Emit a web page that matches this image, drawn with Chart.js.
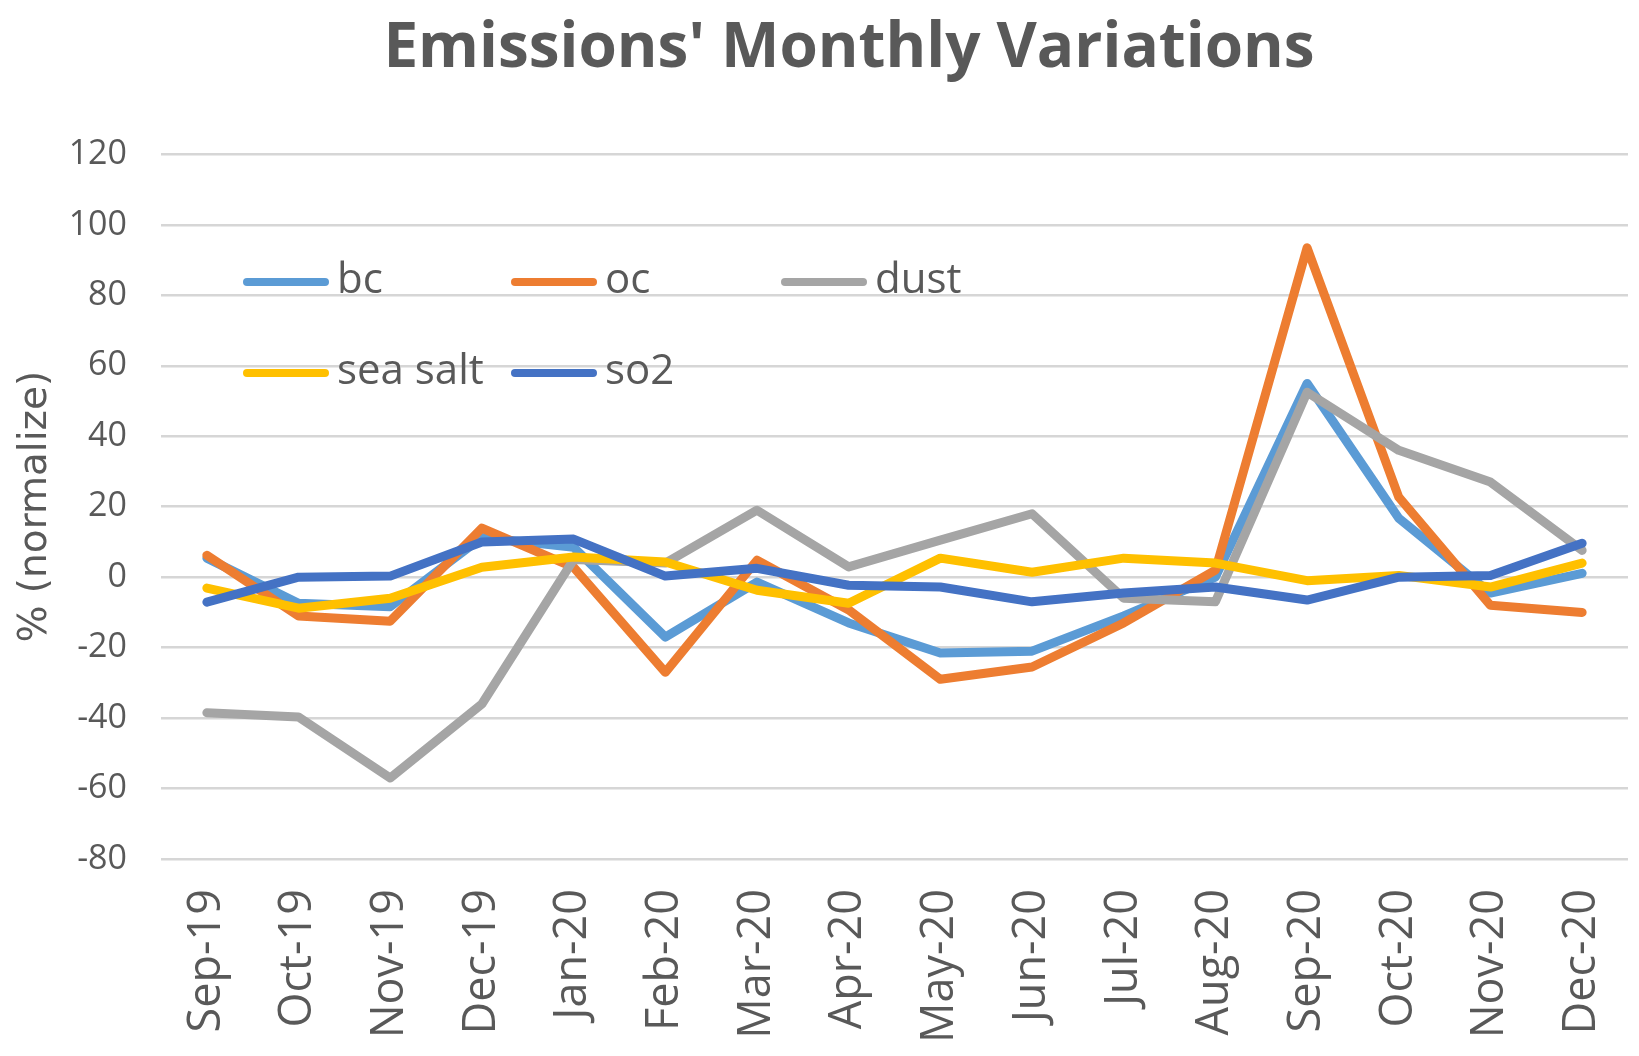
<!DOCTYPE html>
<html>
<head>
<meta charset="utf-8">
<title>Emissions' Monthly Variations</title>
<script src="https://cdn.jsdelivr.net/npm/chart.js@4.4.1/dist/chart.umd.min.js"></script>
<style>
  html, body { margin: 0; padding: 0; background: #fff; }
</style>
</head>
<body>
<canvas id="emissionsChart" width="1639" height="1056"></canvas>
<script>
// values (% normalized)
const months = ['Sep-19', 'Oct-19', 'Nov-19', 'Dec-19', 'Jan-20', 'Feb-20', 'Mar-20', 'Apr-20',
  'May-20', 'Jun-20', 'Jul-20', 'Aug-20', 'Sep-20', 'Oct-20', 'Nov-20', 'Dec-20'];
const bc = [5.4, -7.4, -8.4, 11.3, 8.5, -17, -1.4, -13, -21.5, -21, -11, 0, 55, 16.7, -4.5, 1.1];
const oc = [6.2, -11, -12.5, 13.9, 2.8, -27, 4.8, -9.3, -29, -25.5, -13, 2, 93.5, 22.7, -8, -10];
const dust = [-38.5, -39.7, -57, -36, 5, 4, 19, 2.9, 10.5, 18, -6, -7, 52.5, 36, 27, 7.6];
const seaSalt = [-3.1, -8.8, -6, 2.8, 5.7, 4.3, -3.7, -7.4, 5.4, 1.4, 5.4, 4, -1, 0.5, -2.8, 4];
const so2 = [-7.1, 0, 0.3, 10, 10.8, 0.3, 2.5, -2.3, -2.8, -7, -4.5, -2.8, -6.5, 0, 0.5, 9.6];
const yTicks = { min: -80, max: 120, step: 20 };

const textGrey = '#595959';

// legend sits inside the plot, two rows like the Excel original
const legendSpots = [
  { x: 247, y: 282 }, { x: 515, y: 282 }, { x: 785, y: 282 },
  { x: 247, y: 373 }, { x: 515, y: 373 }
];

const insideLegend = {
  id: 'insideLegend',
  afterDraw(chart) {
    const ctx = chart.ctx;
    ctx.save();
    chart.data.datasets.forEach((ds, i) => {
      const spot = legendSpots[i];
      ctx.strokeStyle = ds.borderColor;
      ctx.lineWidth = 8;
      ctx.lineCap = 'round';
      ctx.beginPath();
      ctx.moveTo(spot.x, spot.y);
      ctx.lineTo(spot.x + 78, spot.y);
      ctx.stroke();
      ctx.fillStyle = textGrey;
      ctx.font = '42px "Open Sans"';
      ctx.textBaseline = 'alphabetic';
      ctx.fillText(ds.label, spot.x + 90, spot.y + 11);
    });
    ctx.restore();
  }
};

function series(label, data, color, order) {
  return {
    label, data, order,
    borderColor: color,
    backgroundColor: color,
    borderWidth: 9,
    borderCapStyle: 'round',
    borderJoinStyle: 'round',
    pointRadius: 0,
    tension: 0,
    fill: false
  };
}

new Chart(document.getElementById('emissionsChart'), {
  type: 'line',
  data: {
    labels: months,
    datasets: [
      series('bc', bc, '#5B9BD5', 5),
      series('oc', oc, '#ED7D31', 4),
      series('dust', dust, '#A5A5A5', 3),
      series('sea salt', seaSalt, '#FFC000', 2),
      series('so2', so2, '#4472C4', 1)
    ]
  },
  options: {
    responsive: false,
    animation: false,
    devicePixelRatio: 1,
    // extra left padding pushes the title centre right, as in the original
    layout: { padding: { left: 70, right: 11, top: 0, bottom: 0 } },
    plugins: {
      legend: { display: false },
      tooltip: { enabled: false },
      title: {
        display: true,
        text: "Emissions' Monthly Variations",
        color: textGrey,
        font: { family: 'Open Sans', size: 62, weight: 'bold' },
        padding: { top: 12, bottom: 68 }
      }
    },
    scales: {
      x: {
        offset: true,
        grid: { display: false },
        border: { display: false },
        afterFit(scale) {
          scale.height = 197;
          // rotated labels sit under the plot, no side room needed
          scale.paddingLeft = 0;
          scale.paddingRight = 0;
        },
        ticks: {
          color: textGrey,
          font: { family: 'Open Sans', size: 45 },
          minRotation: 90,
          maxRotation: 90,
          autoSkip: false,
          padding: 22
        }
      },
      y: {
        min: yTicks.min,
        max: yTicks.max,
        afterFit(scale) { scale.width = 91; },
        ticks: {
          stepSize: yTicks.step,
          color: textGrey,
          font: { family: 'Open Sans', size: 34 },
          padding: 34
        },
        grid: { color: '#d6d6d6', lineWidth: 2.5, drawTicks: false },
        border: { display: false },
        title: {
          display: true,
          text: '% (normalize)',
          color: textGrey,
          font: { family: 'DejaVu Sans', size: 39 },
          padding: { top: -58, bottom: 0 }
        }
      }
    }
  },
  plugins: [insideLegend]
});
</script>
</body>
</html>
